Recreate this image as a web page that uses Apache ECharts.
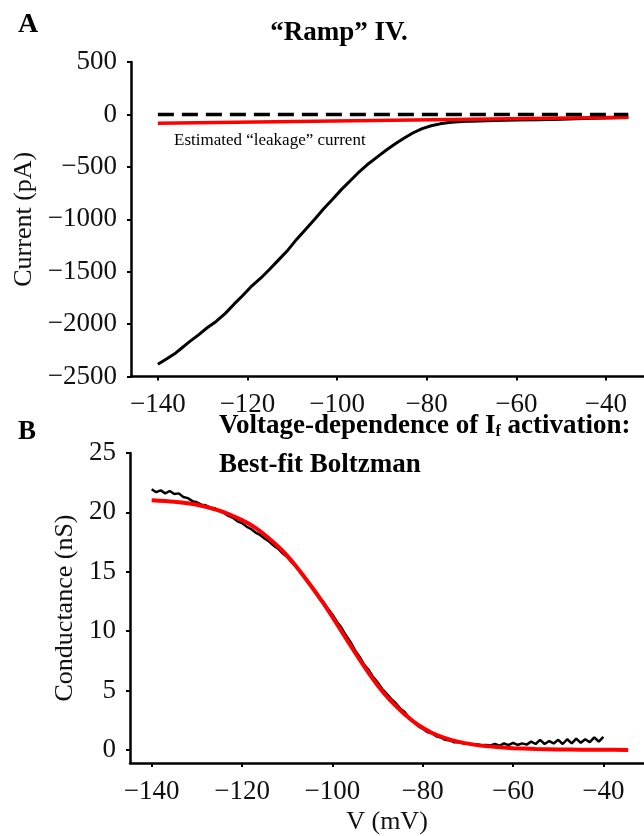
<!DOCTYPE html>
<html><head><meta charset="utf-8">
<script src="https://cdn.jsdelivr.net/npm/echarts@6/dist/echarts.min.js"></script>
<style>html,body{margin:0;padding:0;background:#fff}#c{width:644px;height:836px}</style>
</head><body><div id="c"></div>
<script>
const FONT = '"Liberation Serif", "Times New Roman", serif';

// tick labels
const xTicks = [-140, -120, -100, -80, -60, -40];
const yTicksA = [-2500, -2000, -1500, -1000, -500, 0, 500];
const yTicksB = [0, 5, 10, 15, 20, 25];

// Panel A: ramp current
const rampV = [-140, -138, -136, -135, -133, -131, -129, -127, -125, -123, -121, -119, -117, -115, -113, -111, -109, -107, -105, -103, -101, -99, -97, -95, -93, -91, -89, -87, -85, -83, -81, -79, -77, -75, -73, -70, -65, -60, -55, -50, -45, -40, -35];
const rampI = [-2383, -2330, -2275, -2240, -2170, -2105, -2035, -1975, -1900, -1810, -1725, -1635, -1560, -1475, -1385, -1295, -1190, -1095, -1000, -900, -810, -715, -630, -545, -470, -405, -340, -280, -225, -175, -135, -108, -90, -78, -70, -64, -58, -54, -50, -46, -40, -34, -29];
const leakV = [-140, -35];
const leakI = [-85, -28];
const zeroV = [-140, -35];
const zeroI = [0, 0];

// Panel B: conductance data and Boltzmann fit
const condV = [-140,-139,-138,-137,-136,-135,-134,-133,-132,-131,-130,-129,-128,-127,-126,-125,-124,-123,-122,-121,-120,-119,-118,-117,-116,-115,-114,-113,-112,-111,-110,-109,-108,-107,-106,-105,-104,-103,-102,-101,-100,-99,-98,-97,-96,-95,-94,-93,-92,-91,-90,-89,-88,-87,-86,-85,-84,-83,-82,-81,-80,-79,-78,-77,-76,-75,-74,-73,-72,-71,-70,-69,-68,-67,-66,-65,-64,-63,-62,-61,-60,-59,-58,-57,-56,-55,-54,-53,-52,-51,-50,-49,-48,-47,-46,-45,-44,-43,-42,-41,-40];
const condG = [21.95,21.7,21.85,21.6,21.8,21.55,21.6,21.3,21.2,20.95,20.85,20.65,20.6,20.4,20.35,20.1,19.95,19.7,19.55,19.25,19.1,18.8,18.6,18.3,18.1,17.8,17.55,17.2,16.95,16.55,16.25,15.8,15.45,14.95,14.5,13.95,13.5,12.9,12.45,11.9,11.4,10.8,10.3,9.65,9.1,8.4,7.85,7.2,6.75,6.15,5.7,5.15,4.75,4.3,3.95,3.5,3.2,2.7,2.4,2.0,1.8,1.5,1.4,1.15,1.05,0.85,0.8,0.65,0.65,0.55,0.55,0.45,0.48,0.4,0.42,0.38,0.5,0.35,0.55,0.4,0.6,0.42,0.55,0.45,0.7,0.5,0.85,0.5,0.75,0.55,0.85,0.5,0.9,0.55,0.95,0.6,0.9,0.65,1.05,0.7,1.1];
const fitV = [-140, -135, -130, -125, -120, -117, -114, -111, -108, -105, -102, -99, -96, -93, -90, -87, -84, -81, -78, -75, -72, -69, -66, -63, -60, -55, -50, -45, -40, -34.5];
const fitG = [21.03, 20.9, 20.65, 20.15, 19.35, 18.7, 17.8, 16.75, 15.45, 13.95, 12.35, 10.6, 8.8, 7.05, 5.45, 4.1, 3.0, 2.1, 1.45, 1.0, 0.68, 0.47, 0.32, 0.22, 0.15, 0.08, 0.04, 0.02, 0.01, 0.0];

const zip = (a, b) => a.map((v, i) => [v, b[i]]);
const fmt = v => (v < 0 ? '\u2212' + Math.abs(v) : String(v));

function xAxisCfg(idx, min, max, extra) {
  return Object.assign({
    type: 'value', gridIndex: idx, min: min, max: max,
    axisLine: { show: true, onZero: false, lineStyle: { color: '#000', width: 2.5 } },
    axisTick: { show: true, length: 4, lineStyle: { color: '#000', width: 2 }, customValues: xTicks },
    axisLabel: { color: '#111', fontSize: 27, fontFamily: FONT, margin: 15, customValues: xTicks, formatter: fmt },
    splitLine: { show: false }
  }, extra || {});
}
function yAxisCfg(idx, min, max, ticks, name, gap) {
  return {
    type: 'value', gridIndex: idx, min: min, max: max,
    name: name, nameLocation: 'middle', nameGap: gap,
    nameTextStyle: { color: '#111', fontSize: 26, fontFamily: FONT },
    axisLine: { show: true, onZero: false, lineStyle: { color: '#000', width: 2.5 } },
    axisTick: { show: true, length: 4, lineStyle: { color: '#000', width: 2 }, customValues: ticks },
    axisLabel: { color: '#111', fontSize: 27, fontFamily: FONT, margin: 14, customValues: ticks, formatter: fmt },
    splitLine: { show: false }
  };
}

const chart = echarts.init(document.getElementById('c'), null, { renderer: 'canvas' });
chart.setOption({
  animation: false,
  backgroundColor: '#fff',
  grid: [
    { left: 131, top: 62, width: 513, height: 314.5 },
    { left: 130, top: 453, width: 514, height: 316 }
  ],
  xAxis: [
    xAxisCfg(0, -146, -31.5),
    xAxisCfg(1, -144.8, -31, { name: 'V (mV)', nameLocation: 'middle', nameGap: 46,
      nameTextStyle: { color: '#111', fontSize: 26, fontFamily: FONT } })
  ],
  yAxis: [
    yAxisCfg(0, -2500, 500, yTicksA, 'Current (pA)', 86),
    yAxisCfg(1, -1.1, 25, yTicksB, 'Conductance (nS)', 41)
  ],
  series: [
    { type: 'line', xAxisIndex: 0, yAxisIndex: 0, data: zip(rampV, rampI), showSymbol: false, silent: true,
      lineStyle: { color: '#000', width: 3 }, z: 2 },
    { type: 'line', xAxisIndex: 0, yAxisIndex: 0, data: zip(leakV, leakI), showSymbol: false, silent: true,
      lineStyle: { color: '#ff0000', width: 3.5 }, z: 3 },
    { type: 'line', xAxisIndex: 0, yAxisIndex: 0, data: zip(zeroV, zeroI), showSymbol: false, silent: true,
      lineStyle: { color: '#000', width: 3.5, type: [16, 8] }, z: 4 },
    { type: 'line', xAxisIndex: 1, yAxisIndex: 1, data: zip(condV, condG), showSymbol: false, silent: true,
      lineStyle: { color: '#000', width: 2.5 }, z: 2 },
    { type: 'line', xAxisIndex: 1, yAxisIndex: 1, data: zip(fitV, fitG), showSymbol: false, silent: true, smooth: 0.3,
      lineStyle: { color: '#ff0000', width: 4 }, z: 3 }
  ],
  graphic: [
    { type: 'text', left: 18, top: 11, style: { text: 'A', font: 'bold 28px ' + FONT, fill: '#000' } },
    { type: 'text', x: 339, y: 33, style: { text: '\u201cRamp\u201d IV.', font: 'bold 27px ' + FONT, fill: '#000', textAlign: 'center', textVerticalAlign: 'middle' } },
    { type: 'text', x: 174, y: 141, style: { text: 'Estimated \u201cleakage\u201d current', font: '17px ' + FONT, fill: '#000', textAlign: 'left', textVerticalAlign: 'middle' } },
    { type: 'text', left: 18, top: 419, style: { text: 'B', font: 'bold 27px ' + FONT, fill: '#000' } },
    { type: 'text', x: 219, y: 426, style: {
        text: 'Voltage-dependence of I{sub|f} activation:', font: 'bold 27px ' + FONT, fill: '#000',
        textAlign: 'left', textVerticalAlign: 'middle',
        rich: { sub: { fontSize: 16, fontWeight: 'bold', fontFamily: FONT, fill: '#000', lineHeight: 16, verticalAlign: 'bottom' } } } },
    { type: 'text', x: 219, y: 465, style: { text: 'Best-fit Boltzman', font: 'bold 27px ' + FONT, fill: '#000', textAlign: 'left', textVerticalAlign: 'middle' } }
  ]
});
</script>
</body></html>
